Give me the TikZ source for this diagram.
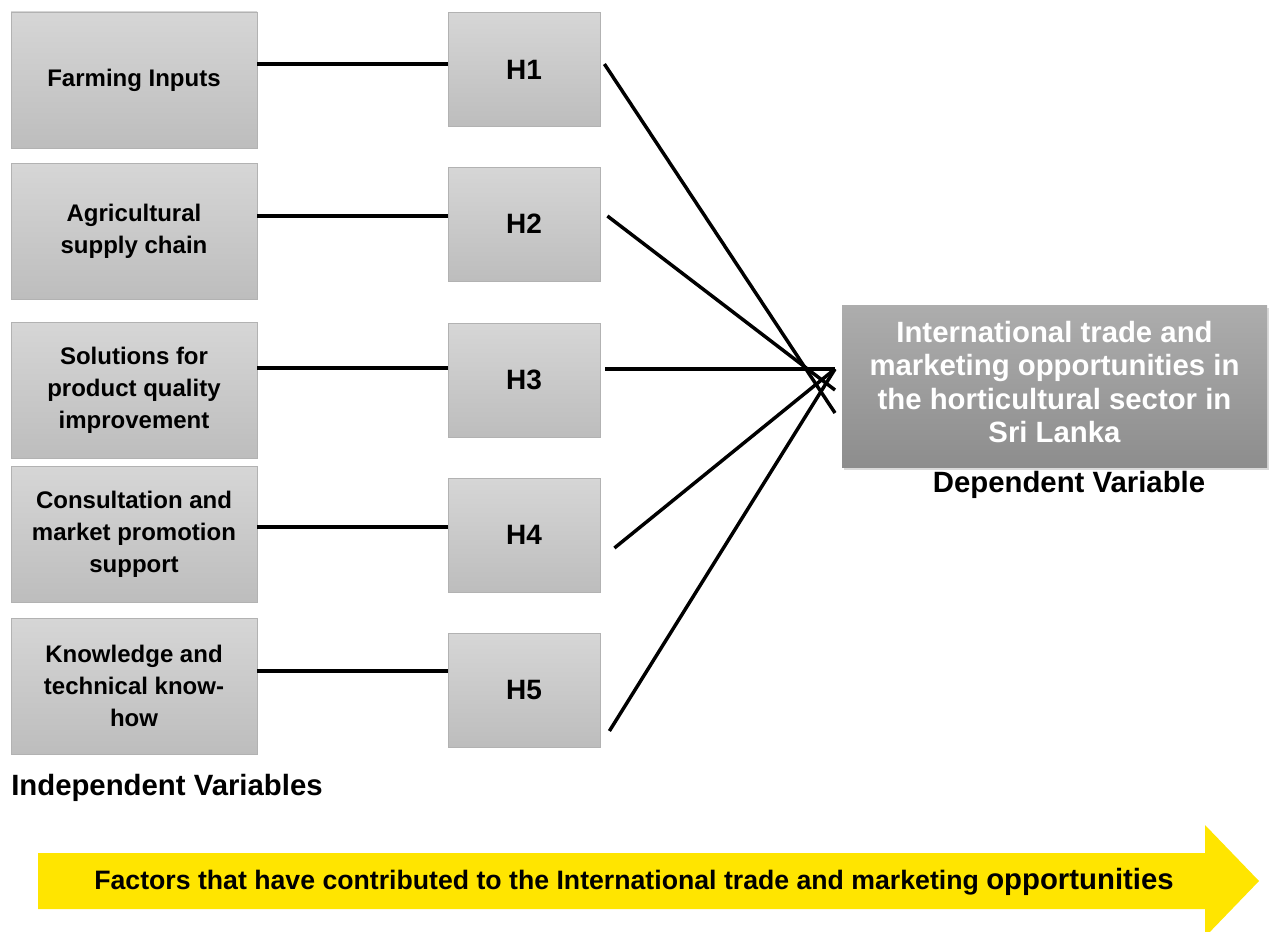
\documentclass[tikz,border=0pt]{standalone}
\usepackage{fontspec}
\setmainfont{Liberation Sans}
\usepackage{xcolor}
\usepackage{tikz}
\usetikzlibrary{positioning, calc, shadows}
\definecolor{boxtop}{RGB}{214,214,214}
\definecolor{boxbot}{RGB}{189,189,189}
\definecolor{boxline}{RGB}{178,178,178}
\definecolor{deptop}{RGB}{173,173,173}
\definecolor{depbot}{RGB}{141,141,141}
\definecolor{banneryellow}{RGB}{255,229,0}

\begin{document}
\begin{tikzpicture}[
  x=0.75pt, y=-0.75pt,
  factor/.style={rectangle, draw=boxline, line width=0.6pt,
                 top color=boxtop, bottom color=boxbot,
                 minimum width=184.5pt, minimum height=102pt,
                 align=center, inner sep=2pt,
                 font=\fontsize{18}{24}\selectfont\bfseries},
  hyp/.style={factor, minimum width=114pt, minimum height=85.5pt,
              font=\fontsize{21}{25}\selectfont\bfseries},
  outcome/.style={rectangle, top color=deptop, bottom color=depbot,
                  minimum width=318.75pt, minimum height=121.5pt,
                  drop shadow={opacity=0.3, shadow xshift=1.5pt, shadow yshift=-2.5pt}},
  outtext/.style={align=center, text=white, inner sep=0pt,
                  font=\fontsize{22}{25}\selectfont\bfseries},
  caption/.style={font=\fontsize{22}{26}\selectfont\bfseries, inner sep=0pt},
  link/.style={line width=2.6pt, black},
]
  \useasboundingbox (0,0) rectangle (1269,931);

  % independent variables
  \node[factor] (fi) at (134,80)    {Farming Inputs};
  \node[factor] (sc) at (134,231.5) {Agricultural\\supply chain};
  \node[factor] (pq) at (134,390)   {Solutions for\\product quality\\improvement};
  \node[factor] (mp) at (134,534)   {Consultation and\\market promotion\\support};
  \node[factor] (kt) at (134,686)   {Knowledge and\\technical know-\\how};

  % hypotheses
  \node[hyp] (h1) at (524,69.5) {H1};
  \node[hyp] (h2) at (524,224)  {H2};
  \node[hyp] (h3) at (524,380)  {H3};
  \node[hyp] (h4) at (524,535)  {H4};
  \node[hyp] (h5) at (524,690)  {H5};

  % dependent variable
  \node[outcome] (dv) at (1054.5,386) {};
  \node[outtext] (dvt) at ($(dv.center)+(0,-4)$)
    {International trade and\\marketing opportunities in\\the horticultural sector in\\Sri Lanka};

  \node[caption] (dvl) at (1069,485) {Dependent Variable};
  \node[caption, anchor=west] (ivl) at (11,788) {Independent Variables};

  % meeting point in front of the outcome box
  \coordinate (hub) at (835,369);
  \coordinate (e1)  at (835,413);
  \coordinate (e2)  at (835,390);

  \draw[link] (fi.east |- 0,64)  -- (h1.west |- 0,64);
  \draw[link] (sc.east |- 0,216) -- (h2.west |- 0,216);
  \draw[link] (pq.east |- 0,368) -- (h3.west |- 0,368);
  \draw[link] (mp.east |- 0,527) -- (h4.west |- 0,527);
  \draw[link] (kt.east |- 0,671) -- (h5.west |- 0,671);

  \draw[link] ($(h1.east |- 0,64)+(4,0)$)   -- (e1);
  \draw[link] ($(h2.east |- 0,216)+(7,0)$)  -- (e2);
  \draw[link] ($(h3.east |- 0,369)+(5,0)$)  -- (hub);
  \draw[link] ($(h4.east |- 0,548)+(14,0)$) -- (hub);
  \draw[link] ($(h5.east |- 0,731)+(9,0)$)  -- (hub);

  % banner arrow
  \fill[banneryellow] (38,853) -- (1205,853) -- (1205,825) -- (1259,881)
    -- (1205,937) -- (1205,909) -- (38,909) -- cycle;
  \node[inner sep=0pt, font=\fontsize{20}{22}\selectfont\bfseries] (banner) at (634,882)
    {Factors that have contributed to the International trade and marketing
     {\fontsize{22}{24}\selectfont opportunities}};
\end{tikzpicture}
\end{document}
